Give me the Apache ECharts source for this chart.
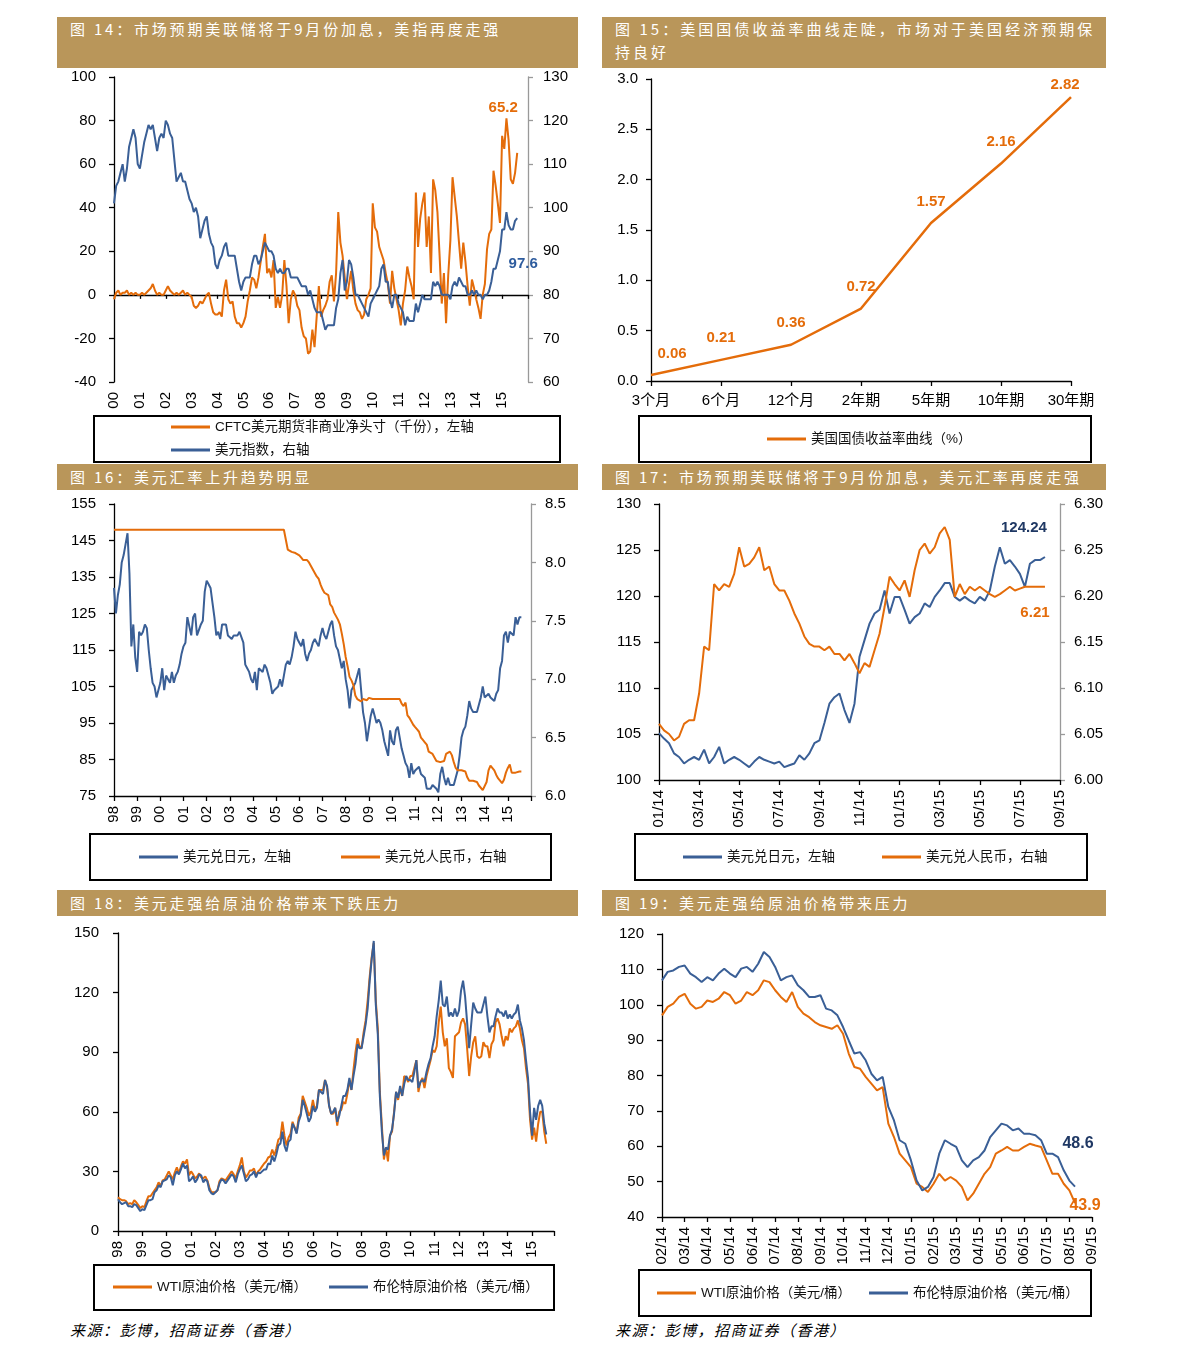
<!DOCTYPE html>
<html>
<head>
<meta charset="utf-8">
<script src="https://cdn.jsdelivr.net/npm/echarts@6/dist/echarts.min.js"></script>
<style>
body{margin:0;background:#fff;width:1192px;height:1361px;position:relative;overflow:hidden;font-family:"Noto Sans CJK SC",sans-serif;}
.bar{position:absolute;background:#B9965A;color:#fff;font-size:15px;letter-spacing:2.8px;padding-left:13px;box-sizing:border-box;white-space:nowrap;overflow:hidden;}
.box{position:absolute;border:2px solid #000;box-sizing:border-box;}
.src{position:absolute;font-size:15px;font-style:italic;letter-spacing:1.5px;color:#000;line-height:20px;}
#chart{position:absolute;left:0;top:0;width:1192px;height:1361px;z-index:2;}
</style>
</head>
<body>
<div class="bar" style="left:57px;top:17px;width:521px;height:51px;line-height:23px;">图 14：市场预期美联储将于9月份加息，美指再度走强</div>
<div class="bar" style="left:602px;top:17px;width:504px;height:51px;line-height:23px;"><div style="letter-spacing:3.05px">图 15：美国国债收益率曲线走陡，市场对于美国经济预期保</div><div style="letter-spacing:3.05px">持良好</div></div>
<div class="bar" style="left:57px;top:464px;width:521px;height:26px;line-height:26px;">图 16：美元汇率上升趋势明显</div>
<div class="bar" style="left:602px;top:464px;width:504px;height:26px;line-height:26px;">图 17：市场预期美联储将于9月份加息，美元汇率再度走强</div>
<div class="bar" style="left:57px;top:890px;width:521px;height:26px;line-height:26px;">图 18：美元走强给原油价格带来下跌压力</div>
<div class="bar" style="left:602px;top:890px;width:504px;height:26px;line-height:26px;">图 19：美元走强给原油价格带来压力</div>

<div class="box" style="left:93px;top:415px;width:468px;height:48px;"></div>
<div class="box" style="left:638px;top:415px;width:454px;height:48px;"></div>
<div class="box" style="left:89px;top:833px;width:463px;height:48px;"></div>
<div class="box" style="left:634px;top:833px;width:454px;height:48px;"></div>
<div class="box" style="left:93px;top:1264px;width:462px;height:47px;"></div>
<div class="box" style="left:638px;top:1269px;width:454px;height:48px;"></div>

<div class="src" style="left:70px;top:1320px;">来源：彭博，招商证券（香港）</div>
<div class="src" style="left:615px;top:1320px;">来源：彭博，招商证券（香港）</div>

<div id="chart"></div>
<script>
// ===== Fig 14 : CFTC net position (left) & dollar index (right), monthly 2000-01 .. 2015-08 =====
const fig14Years = ['00','01','02','03','04','05','06','07','08','09','10','11','12','13','14','15'];
const fig14Cftc = [
  -2, 1, 2, 0, 1, 1, 2, 0, 1, 0, 1, 0,
  0, 1, 0, 1, 2, 3, 5, 2, 0, 1, 0, 0,
  2, 4, 2, 1, 0, 1, 0, 1, 2, 0, 1, 0,
  -1, -5, -6, -5, -3, -4, -2, 0, 1, -4, -8, -9,
  -9, -8, -10, 2, 7, -2, -4, -3, -10, -13, -13, -15,
  -13, -10, -3, 2, 8, 7, 3, 8, 15, 22, 28, 10,
  12, 8, 16, -6, -1, -6, 0, 16, 4, -13, -2, 2,
  0, -5, -7, -15, -19, -20, -27, -26, -16, -24, -10, 4,
  -10, -7, -5, -2, 6, 9, -3, 10, 38, 24, 18, 8,
  -2, 5, 11, 2, -4, -7, -8, -11, -9, -2, 0, 3,
  42, 31, 29, 22, 19, 16, 10, 5, -4, 11, 3, -2,
  -7, -14, -4, 2, 13, 8, 4, -2, 47, 22, 35, 42,
  47, 22, 36, 10, 53, 48, 38, 18, -4, 10, -13, 9,
  25, 54, 45, 36, 24, 12, 24, 15, 4, -5, 7, 3,
  -2, -6, -11, 0, 5, 21, 28, 30, 57, 50, 42, 33,
  73, 67, 81, 71, 53, 51, 56, 65.2
];
const fig14Dxy = [
  101, 105, 106, 108, 110, 106, 109, 114, 116, 118, 116, 110,
  109, 112, 115, 117, 119, 118, 119, 116, 113, 116, 117, 116,
  120, 119, 117, 116, 111, 106, 107, 108, 106, 106, 104, 102,
  101, 99, 100, 98, 93, 95, 97, 98, 94, 92, 91, 87,
  86, 88, 89, 91, 92, 89, 89, 89, 89, 86, 83, 81,
  83, 84, 84, 84, 87, 89, 89, 87, 88, 90, 92, 91,
  90, 90, 89, 86, 85, 86, 85, 85, 86, 86, 84, 84,
  84, 84, 83, 82, 82, 82, 80, 81, 79, 77, 76, 76,
  76, 74, 72, 73, 73, 73, 73, 77, 79, 85, 88, 81,
  83, 88, 87, 84, 80, 80, 79, 78, 77, 76, 75, 78,
  79, 80, 81, 82, 86, 87, 83, 83, 79, 77, 80, 80,
  78, 77, 76, 73, 75, 74, 74, 74, 78, 76, 78, 80,
  79, 79, 79, 79, 83, 82, 83, 82, 80, 80, 80, 80,
  79, 82, 83, 82, 84, 83, 82, 82, 80, 80, 81, 80,
  81, 80, 80, 79, 80, 80, 81, 83, 86, 86, 88, 90,
  95, 95, 99, 96, 95, 95, 97, 97.6
];

// ===== Fig 15 : US Treasury yield curve =====
const fig15Tenors = ['3个月','6个月','12个月','2年期','5年期','10年期','30年期'];
const fig15Yield = [0.06, 0.21, 0.36, 0.72, 1.57, 2.16, 2.82];

// ===== Fig 16 : USDJPY (left) & USDCNY (right), monthly 1998-01 .. 2015-08 =====
const fig16Years = ['98','99','00','01','02','03','04','05','06','07','08','09','10','11','12','13','14','15'];
const fig16Jpy = [
  132, 125, 130, 133, 139, 141, 144, 147, 136, 116, 122, 113,
  109, 120, 119, 120, 122, 121, 115, 110, 106, 105, 102, 102,
  106, 110, 104, 108, 107, 106, 109, 106, 108, 109, 111, 114,
  116, 117, 124, 124, 119, 124, 125, 119, 119, 122, 123, 131,
  134, 133, 132, 128, 124, 119, 120, 118, 122, 122, 122, 119,
  119, 118, 119, 119, 119, 120, 120, 117, 111, 110, 109, 107,
  106, 109, 104, 110, 110, 109, 111, 110, 110, 106, 103, 104,
  104, 105, 107, 105, 108, 111, 112, 111, 113, 116, 120, 118,
  117, 116, 118, 114, 112, 114, 115, 117, 118, 117, 116, 119,
  121, 119, 118, 120, 122, 123, 119, 116, 115, 115, 110, 112,
  107, 104, 99, 104, 105, 106, 108, 110, 104, 98, 95, 90,
  90, 97, 99, 99, 95, 96, 95, 93, 90, 90, 86, 93,
  90, 89, 93, 94, 91, 88, 86, 84, 83, 80, 84, 81,
  82, 82, 83, 81, 81, 80, 77, 77, 77, 78, 78, 77,
  76, 81, 83, 80, 78, 80, 78, 78, 78, 80, 82, 86,
  91, 93, 94, 97, 101, 99, 98, 98, 98, 98, 102, 105,
  102, 102, 103, 102, 102, 101, 103, 104, 110, 112, 119, 120,
  117, 120, 120, 119, 124, 122, 124, 124
];
const fig16Cny = [
  8.28, 8.28, 8.28, 8.28, 8.28, 8.28, 8.28, 8.28, 8.28, 8.28, 8.28, 8.28,
  8.28, 8.28, 8.28, 8.28, 8.28, 8.28, 8.28, 8.28, 8.28, 8.28, 8.28, 8.28,
  8.28, 8.28, 8.28, 8.28, 8.28, 8.28, 8.28, 8.28, 8.28, 8.28, 8.28, 8.28,
  8.28, 8.28, 8.28, 8.28, 8.28, 8.28, 8.28, 8.28, 8.28, 8.28, 8.28, 8.28,
  8.28, 8.28, 8.28, 8.28, 8.28, 8.28, 8.28, 8.28, 8.28, 8.28, 8.28, 8.28,
  8.28, 8.28, 8.28, 8.28, 8.28, 8.28, 8.28, 8.28, 8.28, 8.28, 8.28, 8.28,
  8.28, 8.28, 8.28, 8.28, 8.28, 8.28, 8.28, 8.28, 8.28, 8.28, 8.28, 8.28,
  8.28, 8.28, 8.28, 8.28, 8.28, 8.28, 8.11, 8.10, 8.09, 8.08, 8.08, 8.07,
  8.06, 8.04, 8.02, 8.02, 8.02, 8.00, 7.97, 7.97, 7.91, 7.88, 7.86, 7.81,
  7.77, 7.74, 7.73, 7.72, 7.64, 7.62, 7.57, 7.57, 7.51, 7.47, 7.39, 7.30,
  7.19, 7.11, 7.02, 6.99, 6.95, 6.86, 6.83, 6.84, 6.81, 6.83, 6.83, 6.82,
  6.84, 6.84, 6.83, 6.83, 6.83, 6.83, 6.83, 6.83, 6.83, 6.83, 6.83, 6.83,
  6.83, 6.83, 6.83, 6.83, 6.83, 6.79, 6.77, 6.80, 6.69, 6.67, 6.67, 6.61,
  6.59, 6.57, 6.55, 6.50, 6.48, 6.46, 6.44, 6.38, 6.38, 6.36, 6.36, 6.30,
  6.30, 6.29, 6.30, 6.30, 6.36, 6.36, 6.38, 6.35, 6.29, 6.24, 6.22, 6.23,
  6.22, 6.23, 6.21, 6.16, 6.13, 6.14, 6.13, 6.12, 6.12, 6.09, 6.09, 6.05,
  6.06, 6.12, 6.22, 6.26, 6.25, 6.22, 6.18, 6.15, 6.14, 6.11, 6.14, 6.20,
  6.24, 6.27, 6.20, 6.20, 6.20, 6.21, 6.21, 6.21
];

// ===== Fig 17 : USDJPY (left) & USDCNY (right), weekly 2014-01 .. 2015-08 =====
const fig17Months = ['01/14','03/14','05/14','07/14','09/14','11/14','01/15','03/15','05/15','07/15','09/15'];
const fig17Jpy = [
  105.1, 104.5, 104.0, 102.9, 102.5, 101.8, 102.2, 102.5, 102.2, 103.3,
  101.8, 102.5, 103.6, 101.8, 102.2, 102.5, 102.2, 101.8, 101.4, 102.0,
  102.5, 102.2, 102.0, 101.8, 102.0, 101.4, 101.6, 101.8, 102.7, 102.2,
  102.9, 104.0, 104.3, 106.2, 108.3, 109.0, 109.4, 107.6, 106.2, 108.3,
  113.4, 115.2, 117.0, 118.1, 118.5, 120.6, 118.1, 119.9, 119.9, 118.5,
  117.0, 117.7, 118.1, 119.2, 118.8, 119.9, 120.6, 121.4, 121.4, 119.9,
  119.5, 119.9, 119.5, 119.2, 119.9, 119.5, 120.6, 123.2, 125.3, 123.5,
  123.9, 123.2, 122.4, 121.0, 123.5, 123.9, 123.9, 124.24
];
const fig17Cny = [
  6.061, 6.054, 6.050, 6.043, 6.047, 6.061, 6.065, 6.065, 6.094, 6.145,
  6.141, 6.213, 6.206, 6.213, 6.210, 6.224, 6.253, 6.232, 6.235, 6.242,
  6.253, 6.228, 6.232, 6.213, 6.206, 6.206, 6.195, 6.181, 6.170, 6.156,
  6.148, 6.145, 6.145, 6.141, 6.145, 6.137, 6.137, 6.130, 6.137, 6.127,
  6.116, 6.127, 6.123, 6.141, 6.159, 6.188, 6.221, 6.213, 6.206, 6.217,
  6.199, 6.228, 6.250, 6.257, 6.246, 6.253, 6.268, 6.275, 6.261, 6.199,
  6.213, 6.202, 6.210, 6.206, 6.210, 6.206, 6.202, 6.199, 6.202, 6.206,
  6.210, 6.206, 6.208, 6.210, 6.210, 6.210, 6.210, 6.21
];

// ===== Fig 18 : WTI & Brent, monthly 1998-01 .. 2015-08 =====
const fig18Years = ['98','99','00','01','02','03','04','05','06','07','08','09','10','11','12','13','14','15'];
const fig18Wti = [
  17, 16, 15.5, 15.5, 15, 13.5, 14, 13.5, 15.5, 14.5, 13, 11.5,
  12.5, 12, 15, 17.5, 17.5, 19, 20.5, 22, 24.5, 22.5, 25.5, 26,
  28, 30, 28, 26, 29.5, 32, 29, 32.5, 35, 34, 36, 28,
  30, 28.5, 26.5, 27.5, 29, 27, 26.5, 27.5, 25.5, 22, 19.5, 19.5,
  19.5, 20.5, 25, 26.5, 26, 25.5, 27, 28.5, 30, 28.5, 26.5, 30,
  33, 37, 30, 27, 28.5, 30.5, 30.5, 31.5, 28, 30, 31, 32.5,
  34, 35, 37, 37.5, 41, 38, 41.5, 46, 47, 55, 48, 43,
  47, 49, 55, 52, 49.5, 57, 59, 68, 65, 62, 58, 60,
  66, 61, 63, 71, 71, 71, 76, 72, 63, 59, 59, 62,
  53, 60, 61, 65, 64, 69, 76, 71, 81, 90, 97, 93,
  92, 100, 106, 116, 128, 138, 145, 116, 102, 70, 53, 36,
  42, 35, 48, 50, 60, 70, 66, 72, 68, 78, 77, 75,
  78, 78, 82, 86, 70, 75, 77, 72, 78, 82, 86, 91,
  90, 93, 105, 113, 100, 93, 97, 82, 80, 77, 98, 99,
  100, 105, 107, 104, 92, 78, 88, 95, 98, 88, 87, 88,
  95, 93, 93, 87, 94, 96, 105, 107, 104, 98, 93, 98,
  96, 102, 100, 102, 103, 106, 102, 96, 92, 82, 74, 56,
  46, 52, 45, 54, 60, 60, 50, 43.9
];
const fig18Brent = [
  16, 14.5, 13.5, 14, 14.5, 12.5, 12.5, 12, 13.5, 13, 11.5, 10,
  11, 10.5, 13, 15.5, 15.5, 16, 19.5, 20.5, 23, 22, 25, 25.5,
  26, 28, 27, 23, 28, 30, 28.5, 31, 34, 31.5, 33, 25,
  26, 27.5, 24.5, 26, 28.5, 28, 24.5, 26, 25, 20.5, 19, 18.5,
  19.5, 20.5, 24, 26, 25.5, 24, 25.5, 27, 28.5, 27.5, 24.5, 28.5,
  31, 33, 29, 25, 26, 28, 28.5, 30, 27, 29.5, 29, 30,
  31, 31, 34, 33.5, 38, 35, 38.5, 43, 44, 50, 43, 40,
  45, 46, 54, 52, 49, 55, 58, 66, 63, 59, 55, 57,
  63, 60, 62, 71, 70, 69, 76, 73, 63, 59, 60, 62,
  55, 58, 63, 68, 68, 71, 77, 71, 78, 84, 94, 92,
  92, 98, 104, 112, 126, 137, 146, 114, 99, 68, 50, 38,
  42, 41, 48, 51, 59, 70, 67, 73, 68, 74, 78, 76,
  76, 75, 80, 86, 72, 75, 76, 75, 80, 84, 87, 93,
  98, 108, 116, 126, 114, 113, 118, 108, 110, 108, 112, 108,
  111, 121, 126, 118, 105, 92, 104, 115, 112, 110, 110, 110,
  114, 118, 108, 100, 103, 103, 108, 112, 110, 110, 108, 111,
  107, 109, 107, 109, 110, 114, 106, 102, 96, 86, 77, 60,
  48, 62, 56, 63, 66, 63, 54, 48.6
];

// ===== Fig 19 : WTI & Brent, weekly 2014-02 .. 2015-08 =====
const fig19Months = ['02/14','03/14','04/14','05/14','06/14','07/14','08/14','09/14','10/14','11/14','12/14','01/15','02/15','03/15','04/15','05/15','06/15','07/15','08/15','09/15'];
const fig19Wti = [
  97.0, 99.4, 100.3, 102.2, 103.1, 100.3, 98.9, 99.4, 101.2, 100.8,
  101.7, 103.6, 102.7, 100.3, 101.2, 103.6, 102.7, 104.1, 106.9, 106.4,
  104.1, 102.2, 100.8, 103.6, 99.4, 97.5, 96.5, 95.1, 94.2, 93.7,
  93.2, 94.2, 91.8, 86.2, 82.4, 81.9, 79.6, 77.7, 75.8, 76.7,
  66.4, 62.6, 57.9, 56.0, 54.1, 49.4, 48.5, 47.1, 49.4, 52.2,
  50.3, 51.3, 50.3, 48.5, 44.7, 46.6, 49.4, 52.2, 54.1, 57.9,
  58.8, 59.8, 58.8, 58.8, 59.8, 60.7, 60.2, 59.8, 56.0, 52.2,
  52.2, 49.4, 47.5, 43.9
];
const fig19Brent = [
  106.9, 109.3, 109.7, 110.7, 111.1, 108.8, 107.8, 106.4, 107.8, 106.9,
  108.8, 110.2, 108.8, 107.8, 110.2, 110.7, 109.3, 111.6, 114.9, 113.5,
  110.7, 106.9, 107.8, 108.3, 105.5, 104.1, 102.2, 102.2, 102.7, 98.9,
  98.4, 97.0, 93.7, 89.9, 86.2, 86.6, 84.3, 80.5, 78.6, 79.6,
  71.1, 67.3, 61.7, 60.7, 56.0, 50.3, 47.5, 48.5, 51.3, 57.9,
  61.7, 60.7, 59.8, 56.0, 54.1, 56.0, 56.9, 58.8, 62.6, 64.5,
  66.4, 65.9, 64.5, 65.0, 63.5, 63.5, 63.1, 61.7, 57.9, 57.9,
  56.9, 53.2, 50.3, 48.6
];

// ---------- rendering ----------
const ORANGE = '#E46C0A';
const BLUE = '#3A5F96';
const NAVY = '#1F3864';
const FONT = '"Liberation Sans", Arial, "Noto Sans CJK SC", sans-serif';

const monthly = arr => arr.map((v, i) => [i / 12, v]);
const weekly = arr => arr.map((v, i) => [i / 4, v]);

function yAx(gi, min, max, step, pos, fmt, gray, margin) {
  const c = gray ? '#999' : '#000';
  return {
    type: 'value', gridIndex: gi, position: pos, min: min, max: max, interval: step,
    splitLine: { show: false },
    axisLine: { show: true, onZero: false, lineStyle: { color: c, width: 1.3 } },
    axisTick: { show: true, length: 5, lineStyle: { color: c, width: 1.3 } },
    axisLabel: { color: '#000', fontSize: 15, fontFamily: FONT, margin: margin, formatter: fmt }
  };
}
function xAx(gi, max, step, fmt, showLine) {
  return {
    type: 'value', gridIndex: gi, position: 'bottom', min: 0, max: max, interval: step,
    splitLine: { show: false },
    axisLine: { show: showLine, onZero: false, lineStyle: { color: '#000', width: 1.3 } },
    axisTick: { show: showLine, length: 5, lineStyle: { color: '#000', width: 1.3 } },
    axisLabel: { color: '#000', fontSize: 15, fontFamily: FONT, rotate: 90, margin: 10, formatter: fmt }
  };
}
function line(name, data, xi, yi, color, w) {
  return {
    type: 'line', name: name, data: data, xAxisIndex: xi, yAxisIndex: yi,
    showSymbol: false, symbol: 'none', color: color, itemStyle: { color: color },
    lineStyle: { color: color, width: w || 2 }, z: 3
  };
}
function endMark(arr, xStep, offset, color, size) {
  const last = arr.length - 1;
  return {
    symbol: 'circle', symbolSize: 1, itemStyle: { color: 'rgba(0,0,0,0)' },
    label: { show: true, position: 'inside', offset: offset, color: color, fontWeight: 'bold',
             fontSize: size || 15, fontFamily: FONT, formatter: '{c}' },
    data: [{ coord: [last * xStep, arr[last]], value: arr[last] }]
  };
}
function leg(name, left, cy) {
  return {
    show: true, data: [name], left: left, top: cy - 8, padding: 0, icon: 'rect',
    itemWidth: 39, itemHeight: 3, selectedMode: false,
    textStyle: { fontSize: 13.5, lineHeight: 16, color: '#111', fontFamily: FONT }
  };
}
const yearFmt = labels => v => (Number.isInteger(v) && v < labels.length) ? labels[v] : '';

const N14A = 'CFTC美元期货非商业净头寸（千份），左轴';
const N14B = '美元指数，右轴';
const N15 = '美国国债收益率曲线（%）';
const NJPY = '美元兑日元，左轴';
const NCNY = '美元兑人民币，右轴';
const NWTI = 'WTI原油价格（美元/桶）';
const NBRENT = '布伦特原油价格（美元/桶）';

const grids = [
  { left: 114, top: 77, width: 414, height: 305 },
  { left: 651, top: 79, width: 420, height: 302 },
  { left: 114, top: 504, width: 417, height: 292 },
  { left: 659, top: 504, width: 401, height: 276 },
  { left: 118, top: 933, width: 436, height: 298 },
  { left: 662, top: 934, width: 430, height: 283 }
].map(g => Object.assign({ containLabel: false, outerBoundsMode: 'none' }, g));

const xAxes = [
  xAx(0, 16, 1, yearFmt(fig14Years), false),
  { type: 'value', gridIndex: 0, position: 'top', min: 0, max: 16, interval: 1,
    splitLine: { show: false },
    axisLine: { show: true, onZero: true, lineStyle: { color: '#000', width: 1.3 } },
    axisTick: { show: true, inside: true, length: 4, lineStyle: { color: '#000', width: 1.3 } },
    axisLabel: { show: false } },
  { type: 'category', gridIndex: 1, data: fig15Tenors, boundaryGap: false,
    axisLine: { show: true, onZero: false, lineStyle: { color: '#000', width: 1.3 } },
    axisTick: { show: true, length: 5, alignWithLabel: true, lineStyle: { color: '#000', width: 1.3 } },
    axisLabel: { color: '#000', fontSize: 15, fontFamily: FONT, margin: 12 } },
  xAx(2, 18, 1, yearFmt(fig16Years), true),
  xAx(3, 20, 2, v => (v % 2 === 0 && v / 2 < fig17Months.length) ? fig17Months[v / 2] : '', true),
  xAx(4, 17.9, 1, yearFmt(fig18Years), true),
  xAx(5, 19, 1, v => (Number.isInteger(v) && v < fig19Months.length) ? fig19Months[v] : '', true)
];

const yAxes = [
  yAx(0, -40, 100, 20, 'left', v => String(v), false, 18),
  yAx(0, 60, 130, 10, 'right', v => String(v), true, 15),
  yAx(1, 0, 3, 0.5, 'left', v => v.toFixed(1), false, 13),
  yAx(2, 75, 155, 10, 'left', v => String(v), false, 18),
  yAx(2, 6, 8.5, 0.5, 'right', v => v.toFixed(1), true, 14),
  yAx(3, 100, 130, 5, 'left', v => String(v), false, 18),
  yAx(3, 6, 6.3, 0.05, 'right', v => v.toFixed(2), true, 14),
  yAx(4, 0, 150, 30, 'left', v => String(v), false, 19),
  yAx(5, 40, 120, 10, 'left', v => String(v), false, 18)
];

const s14a = line(N14A, monthly(fig14Cftc), 0, 0, ORANGE, 2);
s14a.markPoint = endMark(fig14Cftc, 1 / 12, [-14, -45], ORANGE);
const s14b = line(N14B, monthly(fig14Dxy), 0, 1, BLUE, 2);
s14b.markPoint = endMark(fig14Dxy, 1 / 12, [6, 46], '#2E5C9E');

const lastY = fig15Yield.length - 1;
const s15 = line(N15, fig15Yield.map((v, i) => i === 0 ? { value: v, label: { offset: [21, 0] } }
                                        : i === lastY ? { value: v, label: { offset: [-6, 9] } } : v),
                 2, 2, ORANGE, 2.5);
s15.showSymbol = true;
s15.symbol = 'circle';
s15.symbolSize = 0.1;
s15.label = { show: true, position: 'top', distance: 14, color: ORANGE, fontWeight: 'bold', fontSize: 15, fontFamily: FONT };

const s16a = line(NJPY, monthly(fig16Jpy), 3, 3, BLUE, 2);
const s16b = line(NCNY, monthly(fig16Cny), 3, 4, ORANGE, 2);

const s17a = line(NJPY, weekly(fig17Jpy), 4, 5, BLUE, 2);
s17a.markPoint = endMark(fig17Jpy, 0.25, [-21, -29], NAVY);
const s17b = line(NCNY, weekly(fig17Cny), 4, 6, ORANGE, 2);
s17b.markPoint = endMark(fig17Cny, 0.25, [-10, 26], ORANGE);

const s18a = line(NWTI, monthly(fig18Wti), 5, 7, ORANGE, 2);
const s18b = line(NBRENT, monthly(fig18Brent), 5, 7, BLUE, 2);

const s19a = line(NWTI, weekly(fig19Wti), 6, 8, ORANGE, 2);
s19a.markPoint = endMark(fig19Wti, 0.25, [10, 2], ORANGE, 16);
const s19b = line(NBRENT, weekly(fig19Brent), 6, 8, BLUE, 2);
s19b.markPoint = endMark(fig19Brent, 0.25, [3, -43], NAVY, 16);

const option = {
  animation: false,
  backgroundColor: 'transparent',
  grid: grids,
  xAxis: xAxes,
  yAxis: yAxes,
  legend: [
    leg(N14A, 171, 427), leg(N14B, 171, 450),
    leg(N15, 767, 439),
    leg(NJPY, 139, 857), leg(NCNY, 341, 857),
    leg(NJPY, 683, 857), leg(NCNY, 882, 857),
    leg(NWTI, 113, 1287), leg(NBRENT, 329, 1287),
    leg(NWTI, 657, 1293), leg(NBRENT, 869, 1293)
  ],
  series: [s14a, s14b, s15, s16a, s16b, s17a, s17b, s18a, s18b, s19a, s19b]
};

const chart = echarts.init(document.getElementById('chart'), null, { renderer: 'canvas', width: 1192, height: 1361 });
chart.setOption(option);
</script>
</body>
</html>
